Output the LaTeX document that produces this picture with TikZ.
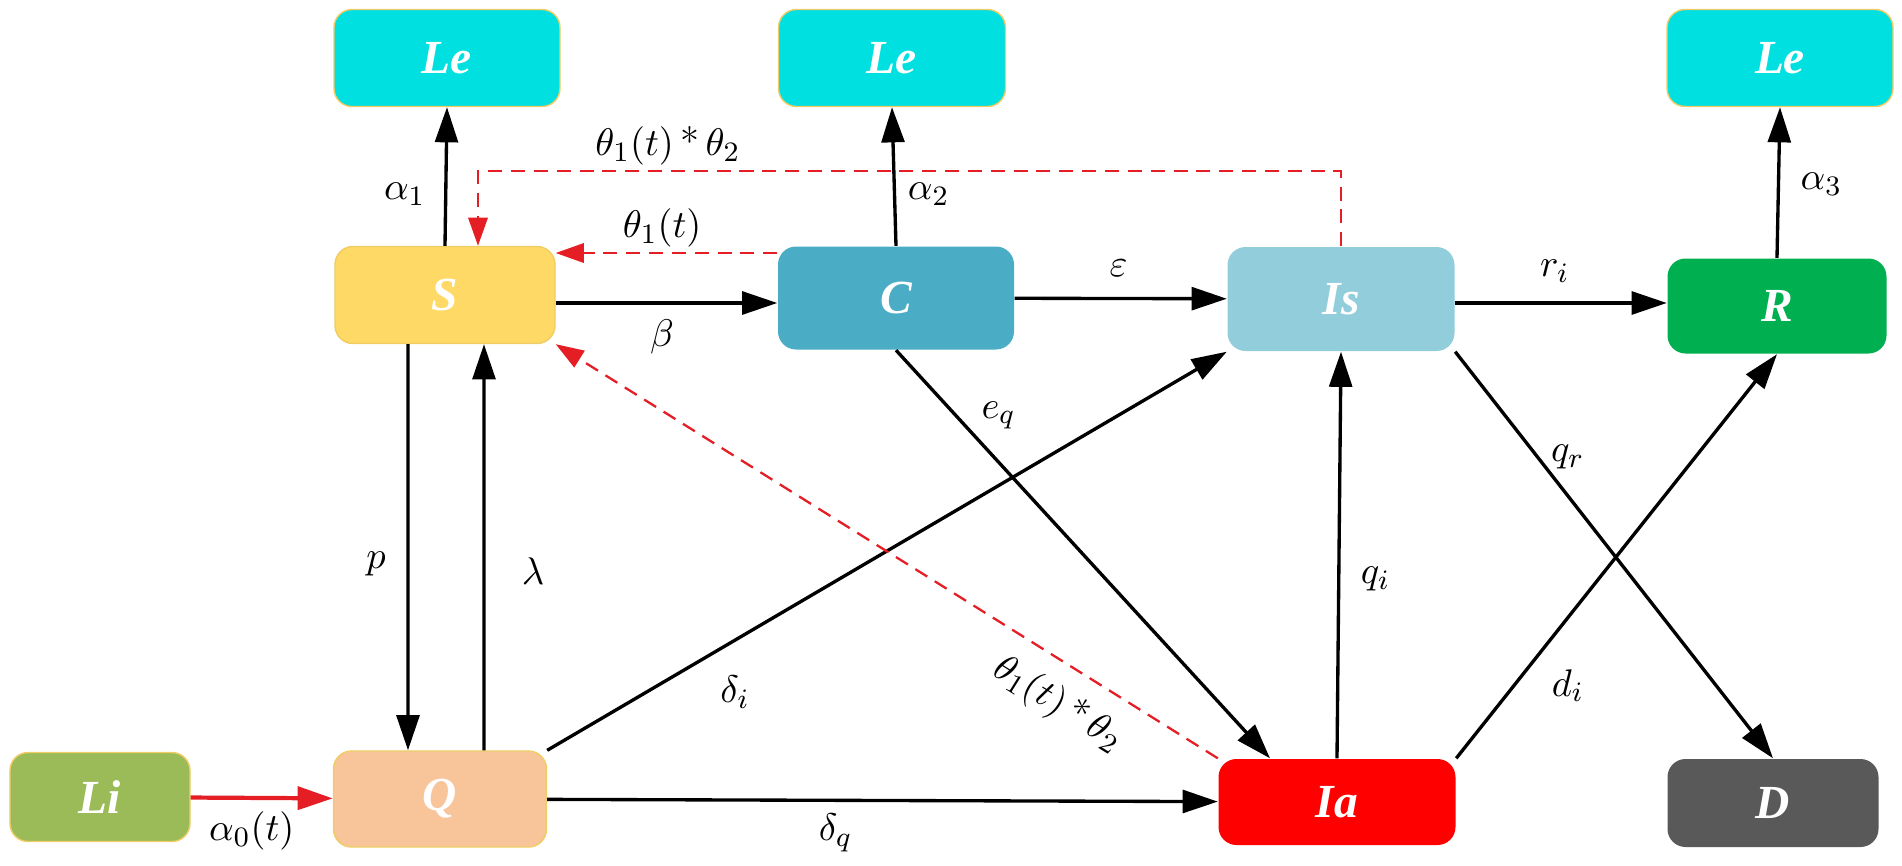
\documentclass[tikz,border=0pt]{standalone}
\usepackage{amsmath}
\usepackage{amssymb}
\usepackage{fontspec}
\usepackage{tikz}
\usetikzlibrary{arrows.meta}
\newfontfamily\boxfont{Liberation Serif}

\definecolor{lecyan}{RGB}{0,224,224}
\definecolor{scol}{RGB}{255,217,102}
\definecolor{ccol}{RGB}{75,172,198}
\definecolor{iscol}{RGB}{146,205,220}
\definecolor{rcol}{RGB}{0,176,80}
\definecolor{licol}{RGB}{155,187,89}
\definecolor{qcol}{RGB}{248,196,154}
\definecolor{iacol}{RGB}{255,0,0}
\definecolor{dcol}{RGB}{89,89,89}
\definecolor{edgegold}{RGB}{240,205,100}
\definecolor{flowred}{RGB}{228,30,36}

\begin{document}
\begin{tikzpicture}
  [>={Triangle[length=10pt,width=6.5pt]}, line width=.95pt,
   box/.style={rounded corners=1.8mm, text=white, line width=.4pt,
     font=\boxfont\bfseries\itshape\fontsize{13.5}{15}\selectfont},
   rate/.style={font=\fontsize{11}{13}\selectfont},
   dashflow/.style={flowred, line width=.65pt, dash pattern=on 4pt off 2.5pt,
     -{Triangle[length=8pt,width=5.5pt]}}]
  \useasboundingbox (0,0) rectangle (19.02,8.65);

  \node[box, fill=lecyan, draw=edgegold, minimum width=2.26cm, minimum height=.97cm] (le1) at (4.47, 8.07) {Le};
  \node[box, fill=lecyan, draw=edgegold, minimum width=2.27cm, minimum height=.97cm] (le2) at (8.92, 8.07) {Le};
  \node[box, fill=lecyan, draw=edgegold, minimum width=2.26cm, minimum height=.97cm] (le3) at (17.80, 8.07) {Le};
  \node[box, fill=scol, draw=edgegold, minimum width=2.20cm, minimum height=.97cm] (S) at (4.45, 5.70) {S};
  \node[box, fill=ccol, minimum width=2.36cm, minimum height=1.03cm] (C) at (8.96, 5.67) {C};
  \node[box, fill=iscol, minimum width=2.27cm, minimum height=1.04cm] (Is) at (13.41, 5.66) {Is};
  \node[box, fill=rcol, minimum width=2.19cm, minimum height=.95cm] (R) at (17.77, 5.59) {R};
  \node[box, fill=licol, draw=edgegold, minimum width=1.80cm, minimum height=.89cm] (Li) at (1.00, 0.68) {Li};
  \node[box, fill=qcol, draw=edgegold, minimum width=2.13cm, minimum height=.96cm] (Q) at (4.40, 0.66) {Q};
  \node[box, fill=iacol, minimum width=2.37cm, minimum height=.86cm] (Ia) at (13.37, 0.63) {Ia};
  \node[box, fill=dcol, minimum width=2.11cm, minimum height=.88cm] (D) at (17.73, 0.62) {D};

  \foreach \from/\to/\lab/\p/\side/\d in {
      S.north/le1.south/\alpha_1/.37/left/2pt,
      C.north/le2.south/\alpha_2/.37/right/0pt,
      R.north/le3.south/\alpha_3/.49/right/2.5pt,
      C/Is/\varepsilon/.49/above/2.5pt,
      Q.north east/Is.south west/\delta_i/.23/below right/1pt,
      Ia.north/Is.south/q_i/.44/right/2.5pt,
      Is.south east/D.north/q_r/.26/right/0pt,
      Ia.north east/R.south/d_i/.18/right/7pt,
      Q/Ia/\delta_q/.43/below/0pt}
  \draw[->] (\from) -- (\to) node[rate, pos=\p, \side=\d] {$\lab$};

  \draw[->] ([yshift=-.8mm]S.east) -- ([yshift=-.8mm]S.east -| C.west)
    node[rate, pos=.48, below=1pt] {$\beta$};
  \draw[->] ([yshift=-.4mm]Is.east) -- ([yshift=-.4mm]Is.east -| R.west)
    node[rate, pos=.47, above=2pt] {$r_i$};
  \draw[->] ([xshift=-3.7mm]S.south) -- ([xshift=-3.2mm]Q.north)
    node[rate, pos=.54, left=2.5pt] {$p$};
  \draw[->] ([xshift=4.4mm]Q.north) -- ([xshift=3.9mm]S.south)
    node[rate, pos=.44, right=7pt] {$\lambda$};
  \draw[->] (C.south) -- ([xshift=-6.7mm]Ia.north)
    node[rate, pos=.16, right=3.5pt] {$e_q$};

  \draw[flowred, line width=1.2pt, ->] (Li) -- (Q)
    node[rate, text=black, pos=.43, below=0pt] {$\alpha_0(t)$};
  \draw[dashflow] (Ia.north west) -- (S.south east)
    node[rate, text=black, pos=.21, sloped, below=2pt] {$\theta_1(t)\,\text{*}\,\theta_2$};
  \draw[dashflow] ([yshift=4.5mm]C.west) -- ([yshift=4.5mm]C.west -| S.east)
    node[rate, text=black, pos=.52, above=-2pt] {$\theta_1(t)$};
  \draw[dashflow] (Is.north) -- ++(0,.75) coordinate (turn)
    -| node[rate, text=black, pos=.39, above=-2pt] {$\theta_1(t)\,\text{*}\,\theta_2$} ([xshift=3.3mm]S.north);

\end{tikzpicture}
\end{document}
